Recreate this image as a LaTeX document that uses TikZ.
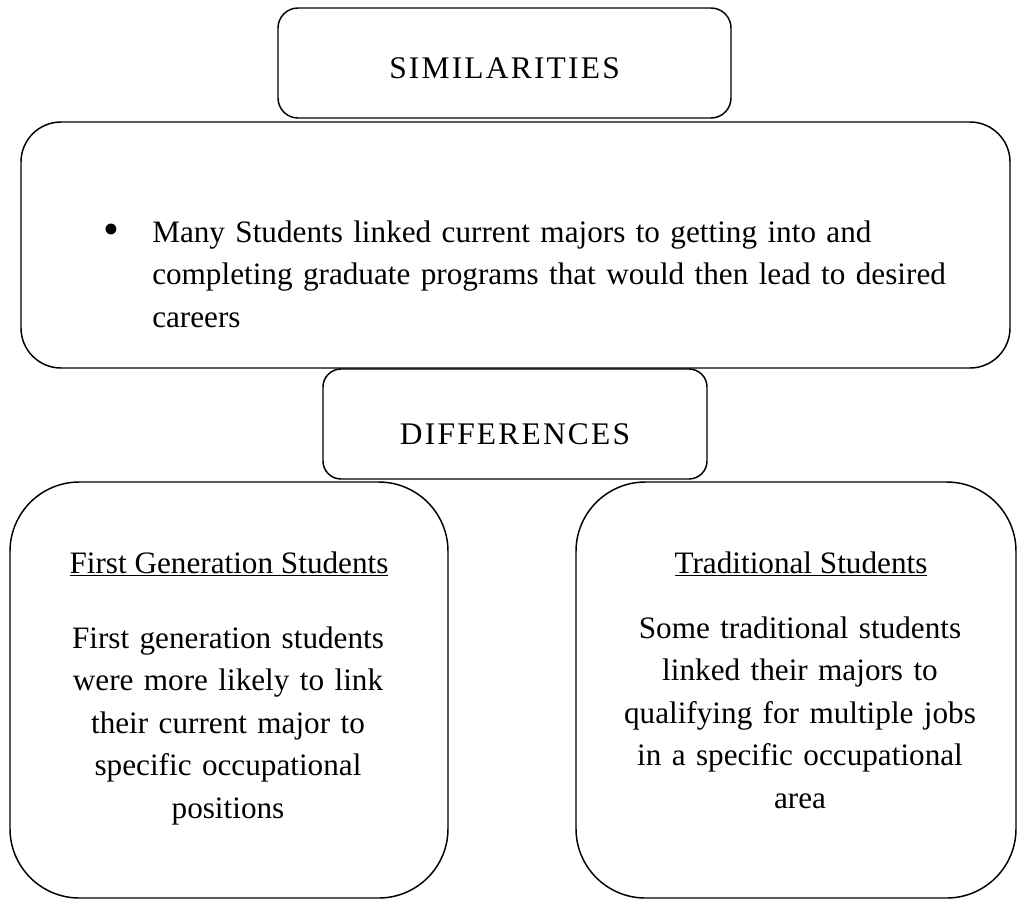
\documentclass[tikz,border=0pt]{standalone}
\usepackage{fontspec}
\setmainfont{Liberation Serif}
\begin{document}
\begin{tikzpicture}[x=0.75pt,y=-0.75pt,
  panel/.style={draw, line width=1.1pt, rounded corners=#1, inner sep=0pt},
  body/.style={inner sep=0pt, font=\fontsize{23.4}{31.9}\selectfont},
  heading/.style={inner sep=0pt, font=\fontsize{23.6}{31.9}\selectfont\addfontfeature{LetterSpace=7}}]
\useasboundingbox (0,0) rectangle (1018,900);
% boxes
\node[panel=15pt, minimum width=339.75pt, minimum height=82.5pt] (sim) at (504.5,63) {};
\node[panel=30pt, minimum width=741.75pt, minimum height=184.5pt] (big) at (515.5,245) {};
\node[panel=13.5pt, minimum width=288pt, minimum height=82.5pt, fill=white] (diff) at (515,424) {};
\node[panel=52pt, minimum width=328.5pt, minimum height=312pt] (left) at (229,690) {};
\node[panel=52pt, minimum width=330pt, minimum height=312pt] (right) at (796,690) {};
% texts
\node[heading, anchor=base] (simt) at (504.5,78) {SIMILARITIES};
\node[heading, anchor=base] (difft) at (515,444) {DIFFERENCES};
\node[body, anchor=base, font=\fontsize{34}{34}\selectfont] (bul) at (111,244) {\textbullet};
\node[body, anchor=base west, text width=620pt, align=left] (simtext) at (152,242)
  {Many Students linked current majors to getting into and\\
   completing graduate programs that would then lead to desired\\
   careers};
\node[body, anchor=base] (lhead) at (229,573) {\underline{First Generation Students}};
\node[body, anchor=base] (rhead) at (801,573) {\underline{Traditional Students}};
\node[body, anchor=base, text width=300pt, align=center] (ltext) at (228,648)
  {First generation students\\ were more likely to link\\ their current major to\\
   specific occupational\\ positions};
\node[body, anchor=base, text width=300pt, align=center] (rtext) at (800,638)
  {Some traditional students\\ linked their majors to\\ qualifying for multiple jobs\\
   in a specific occupational\\ area};
\end{tikzpicture}
\end{document}
